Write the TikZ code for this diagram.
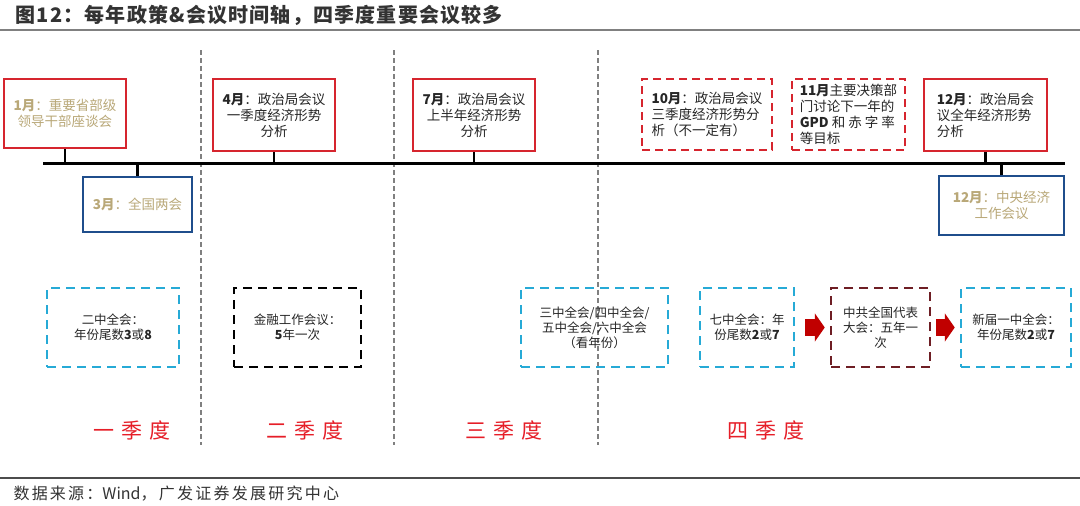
\documentclass[tikz,border=0pt]{standalone}
\usepackage{fontspec}
\setmainfont{Noto Sans CJK SC}
\newfontfamily\titlefont[LetterSpace=6]{Noto Sans CJK SC}
\newfontfamily\qtrfont[LetterSpace=33]{Noto Sans CJK SC}
\newfontfamily\srcfont[LetterSpace=14]{Noto Sans CJK SC}
\usetikzlibrary{arrows.meta}

\definecolor{mtgred}{RGB}{214,37,46}
\definecolor{mtgblue}{RGB}{31,78,140}
\definecolor{mtgcyan}{RGB}{38,170,214}
\definecolor{mtgmaroon}{RGB}{110,30,36}
\definecolor{arrred}{RGB}{192,0,0}
\definecolor{tantext}{RGB}{185,168,120}
\definecolor{qtrred}{RGB}{230,30,40}
\definecolor{sepgray}{RGB}{128,128,128}

\tikzset{
    mtg/.style={draw, line width=2.2pt, inner sep=0pt, align=center, text=black!85, font=\fontsize{13.5}{16}\selectfont},
    politburo/.style={mtg, draw=mtgred},
    plenum/.style={mtg, draw=mtgblue},
    maybe/.style={mtg, draw=mtgred, line width=2.4pt, dash pattern=on 8pt off 5pt},
    session/.style={mtg, line width=2.5pt, dash pattern=on 9pt off 6pt, minimum height=79pt, font=\fontsize{12.5}{15}\selectfont},
    stem/.style={line width=2.5pt},
    nextmtg/.style={-{Triangle[length=10pt,width=28pt]}, line width=17pt, arrred, shorten <=5pt, shorten >=5pt},
    qtr/.style={text=qtrred, font=\qtrfont\fontsize{21}{21}\selectfont},
    sep/.style={sepgray, line width=1.3pt, dash pattern=on 5pt off 3pt}
}

\begin{document}
\begin{tikzpicture}[x=1pt, y=-1pt]
    \useasboundingbox[fill=white] (0, 0) rectangle (1080, 506);

    \node[anchor=west, text=black!80, font=\titlefont\bfseries\fontsize{20}{20}\selectfont] (title) at (12, 15) {图12：每年政策\&会议时间轴，四季度重要会议较多};
    \draw[gray, line width=1.5pt] (0, 30) -- (1080, 30);

    \draw[sep] (201, 50) -- (201, 445);
    \draw[sep] (394, 50) -- (394, 445);
    \draw[sep] (598, 50) -- (598, 445);

    \coordinate (tlL) at (43, 163);
    \coordinate (tlR) at (1065, 163);
    \draw[line width=3pt] (tlL) -- (tlR);

    \node[politburo, minimum width=122pt, minimum height=69pt, text=tantext] (jan) at (65, 113.5) {\textbf{1月}：重要省部级\\领导干部座谈会};
    \node[plenum, minimum width=109pt, minimum height=55pt, text=tantext] (mar) at (137.5, 204.5) {\textbf{3月}：全国两会};
    \node[politburo, minimum width=122pt, minimum height=72pt] (apr) at (274, 115) {\textbf{4月}：政治局会议\\一季度经济形势\\分析};
    \node[politburo, minimum width=122pt, minimum height=72pt] (jul) at (474, 115) {\textbf{7月}：政治局会议\\上半年经济形势\\分析};
    \node[maybe, minimum width=130pt, minimum height=71pt, align=left] (oct) at (707, 114.5) {\textbf{10月}：政治局会议\\三季度经济形势分\\析（不一定有）};
    \node[maybe, minimum width=113pt, minimum height=71pt, align=left] (nov) at (848.5, 114.5) {\textbf{11月}主要决策部\\门讨论下一年的\\\textbf{GPD} 和 赤 字 率\\等目标};
    \node[politburo, minimum width=123pt, minimum height=72pt, align=left] (dec) at (985.5, 115) {\textbf{12月}：政治局会\\议全年经济形势\\分析};
    \node[plenum, minimum width=125pt, minimum height=59pt, text=tantext] (cewc) at (1001.5, 205.5) {\textbf{12月}：中央经济\\工作会议};

    \draw[stem] (jan) -- (jan |- tlL);
    \draw[stem] (mar) -- (mar |- tlL);
    \draw[stem] (apr) -- (apr |- tlL);
    \draw[stem] (jul) -- (jul |- tlL);
    \draw[stem] (dec) -- (dec |- tlL);
    \draw[stem] (cewc) -- (cewc |- tlL);

    \node[session, draw=mtgcyan, minimum width=132pt] (plen2) at (113, 327.5) {二中全会：\\年份尾数\textbf{3}或\textbf{8}};
    \node[session, draw=black, minimum width=127pt] (fin) at (297.5, 327.5) {金融工作会议：\\\textbf{5}年一次};
    \node[session, draw=mtgcyan, minimum width=147pt] (plen36) at (594.5, 327.5) {三中全会/四中全会/\\五中全会/六中全会\\（看年份）};
    \node[session, draw=mtgcyan, minimum width=94pt] (plen7) at (747, 327.5) {七中全会：年\\份尾数\textbf{2}或\textbf{7}};
    \node[session, draw=mtgmaroon, minimum width=99pt] (congress) at (880.5, 327.5) {中共全国代表\\大会：五年一\\次};
    \node[session, draw=mtgcyan, minimum width=110pt] (plen1) at (1016, 327.5) {新届一中全会：\\年份尾数\textbf{2}或\textbf{7}};

    \draw[nextmtg, shorten <=10pt] (plen7) -- (congress);
    \draw[nextmtg] (congress) -- (plen1);

    \node[qtr] (q1) at (132, 430) {一季度};
    \node[qtr] (q2) at (305, 430) {二季度};
    \node[qtr] (q3) at (504, 430) {三季度};
    \node[qtr] (q4) at (766, 430) {四季度};

    \draw[black!70, line width=1.5pt] (0, 478) -- (1080, 478);
    \node[anchor=west, text=black!80, font=\srcfont\fontsize{16}{16}\selectfont] (src) at (10, 494) {数据来源：{\rmfamily Wind}，广发证券发展研究中心};
\end{tikzpicture}
\end{document}
